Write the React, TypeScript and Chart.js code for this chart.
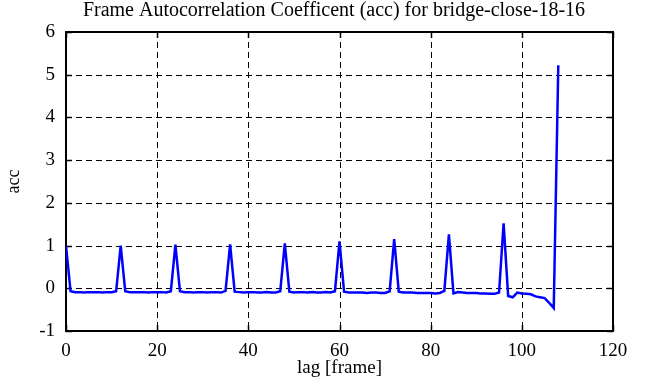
import React, { useEffect, useRef } from "react";
import { Chart, registerables } from "chart.js";

Chart.register(...registerables);

const TITLE = "Frame Autocorrelation Coefficent (acc) for bridge-close-18-16";
const X_LABEL = "lag [frame]";
const Y_LABEL = "acc";

const X_TICKS = [0, 20, 40, 60, 80, 100, 120];
const Y_TICKS = [-1, 0, 1, 2, 3, 4, 5, 6];

// acc value for lag = index (0..108)
const ACC = [
  1.0, -0.07, -0.09, -0.09, -0.1, -0.09, -0.09, -0.09, -0.1, -0.09,
  -0.09, -0.07, 1.0, -0.07, -0.09, -0.09, -0.09, -0.09, -0.1, -0.09,
  -0.09, -0.09, -0.1, -0.07, 1.02, -0.07, -0.09, -0.09, -0.1, -0.09,
  -0.09, -0.1, -0.09, -0.09, -0.1, -0.06, 1.03, -0.08, -0.09, -0.1,
  -0.09, -0.09, -0.1, -0.1, -0.09, -0.1, -0.1, -0.07, 1.05, -0.08,
  -0.1, -0.09, -0.09, -0.1, -0.09, -0.1, -0.1, -0.09, -0.1, -0.07,
  1.1, -0.08, -0.1, -0.1, -0.1, -0.1, -0.11, -0.1, -0.1, -0.11,
  -0.11, -0.07, 1.15, -0.08, -0.1, -0.1, -0.1, -0.11, -0.11, -0.11,
  -0.11, -0.12, -0.11, -0.06, 1.26, -0.12, -0.09, -0.1, -0.11, -0.11,
  -0.11, -0.12, -0.12, -0.13, -0.13, -0.1, 1.52, -0.18, -0.21, -0.1,
  -0.12, -0.13, -0.14, -0.19, -0.21, -0.23, -0.34, -0.46, 5.22,
];

const FONT = "'Liberation Serif', 'Times New Roman', serif";

const framePlugin = {
  id: "gnuplotFrame",
  beforeDatasetsDraw(chart: any) {
    const { ctx, chartArea, scales } = chart;
    const { left, right, top, bottom } = chartArea;
    const xs = scales.x;
    const ys = scales.y;
    ctx.save();
    ctx.strokeStyle = "#000";
    ctx.lineWidth = 1;
    const line = (x1: number, y1: number, x2: number, y2: number) => {
      ctx.beginPath();
      ctx.moveTo(x1, y1);
      ctx.lineTo(x2, y2);
      ctx.stroke();
    };
    ctx.setLineDash([6, 4]);
    for (const v of X_TICKS) {
      const px = Math.round(xs.getPixelForValue(v)) + 0.5;
      if (px <= left + 2 || px >= right - 2) continue;
      line(px, top, px, bottom);
    }
    for (const v of Y_TICKS) {
      const py = Math.round(ys.getPixelForValue(v)) + 0.5;
      if (py <= top + 2 || py >= bottom - 2) continue;
      line(left, py, right, py);
    }
    ctx.setLineDash([]);
    ctx.lineWidth = 1.5;
    const tl = 6;
    for (const v of X_TICKS) {
      const px = Math.round(xs.getPixelForValue(v)) + 0.5;
      line(px, bottom, px, bottom - tl);
      line(px, top, px, top + tl);
    }
    for (const v of Y_TICKS) {
      const py = Math.round(ys.getPixelForValue(v)) + 0.5;
      line(left, py, left + tl, py);
      line(right, py, right - tl, py);
    }
    ctx.lineWidth = 2;
    ctx.strokeRect(left, top, right - left, bottom - top);
    ctx.restore();
  },
  afterDraw(chart: any) {
    const { ctx } = chart;
    ctx.save();
    ctx.fillStyle = "#000";
    ctx.font = `20px ${FONT}`;
    ctx.textAlign = "center";
    ctx.textBaseline = "alphabetic";
    ctx.fillText(TITLE, 334, 16);
    ctx.restore();
  },
};

export default function App() {
  const ref = useRef<HTMLCanvasElement | null>(null);

  useEffect(() => {
    if (!ref.current) return;
    const points = ACC.map((v, i) => ({ x: i, y: v }));
    const chart = new Chart(ref.current, {
      type: "line",
      data: {
        datasets: [
          {
            data: points,
            borderColor: "#0000ff",
            borderWidth: 2.5,
            pointRadius: 0,
            tension: 0,
            fill: false,
          },
        ],
      },
      options: {
        animation: false,
        responsive: false,
        maintainAspectRatio: false,
        devicePixelRatio: 1,
        layout: { padding: { top: 32, right: 43, bottom: 0, left: 0 } },
        plugins: {
          legend: { display: false },
          tooltip: { enabled: false },
          title: { display: false },
        },
        scales: {
          x: {
            type: "linear",
            min: 0,
            max: 120,
            afterBuildTicks: (s: any) => {
              s.ticks = X_TICKS.map((v) => ({ value: v }));
            },
            afterFit: (s: any) => {
              s.height = 56;
            },
            grid: { display: false, drawTicks: false },
            border: { display: false },
            ticks: {
              color: "#000",
              padding: 11,
              maxRotation: 0,
              autoSkip: false,
              font: { family: FONT, size: 19, lineHeight: 1 },
            },
            title: {
              display: true,
              text: X_LABEL,
              color: "#000",
              font: { family: FONT, size: 19, lineHeight: 1 },
              padding: { top: 0, bottom: 9 },
            },
          },
          y: {
            type: "linear",
            min: -1,
            max: 6,
            afterBuildTicks: (s: any) => {
              s.ticks = Y_TICKS.map((v) => ({ value: v }));
            },
            afterFit: (s: any) => {
              s.width = 66;
            },
            grid: { display: false, drawTicks: false },
            border: { display: false },
            ticks: {
              color: "#000",
              padding: 11,
              autoSkip: false,
              font: { family: FONT, size: 19, lineHeight: 1 },
            },
            title: {
              display: true,
              text: Y_LABEL,
              color: "#000",
              font: { family: FONT, size: 18, lineHeight: 1 },
              padding: { top: 5, bottom: 0 },
            },
          },
        },
      },
      plugins: [framePlugin],
    });
    return () => chart.destroy();
  }, []);

  return (
    <div style={{ position: "fixed", left: 0, top: 0, width: 656, height: 387, background: "#fff" }}>
      <canvas ref={ref} width={656} height={387} style={{ display: "block" }} />
    </div>
  );
}
